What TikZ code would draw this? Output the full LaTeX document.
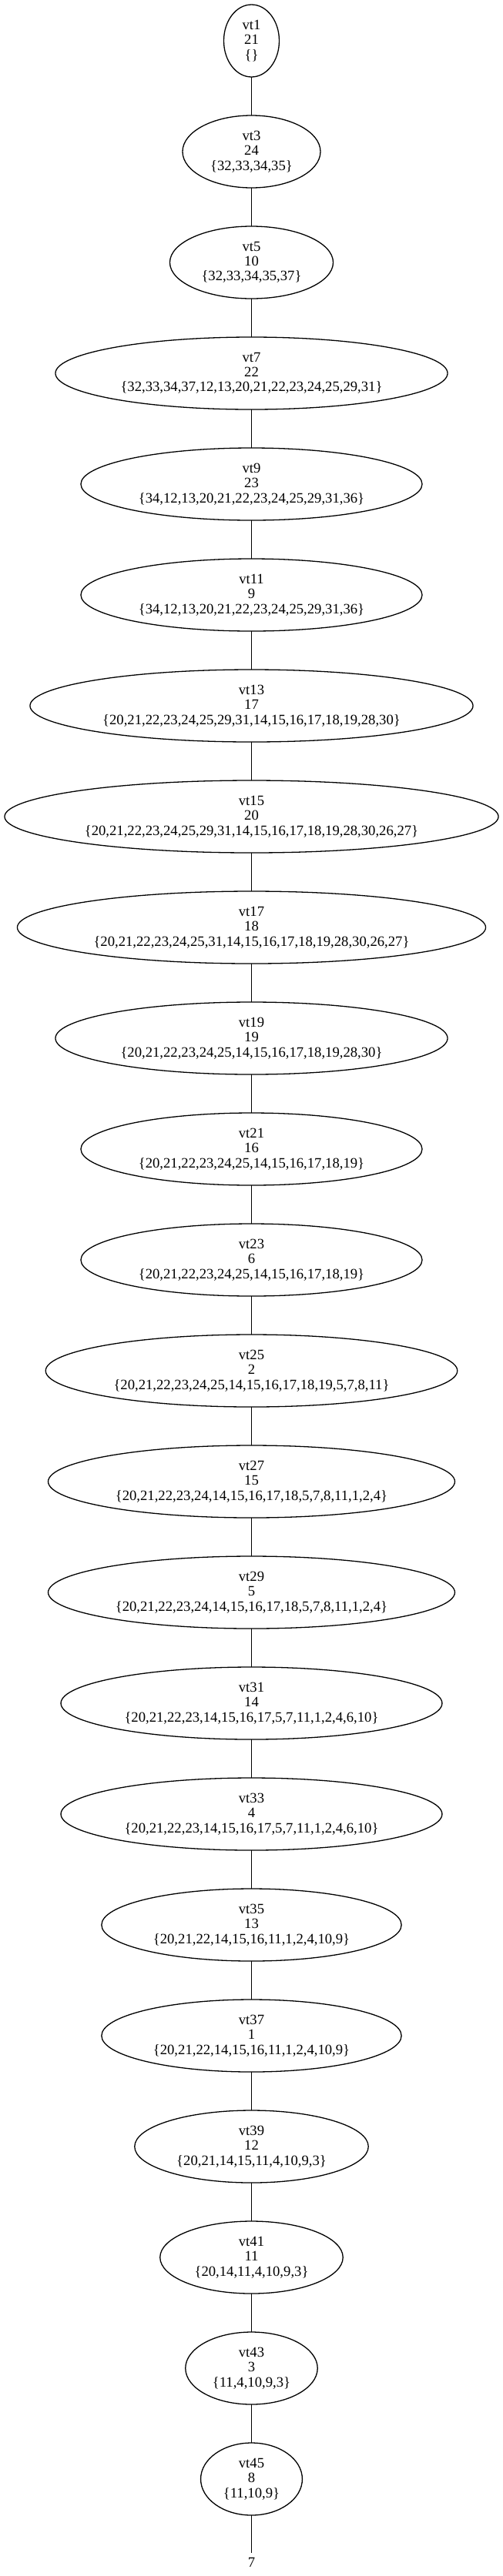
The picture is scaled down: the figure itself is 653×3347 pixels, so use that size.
\documentclass[tikz,border=0pt]{standalone}
\usepackage{fontspec}
\setmainfont{Liberation Serif}
\usepackage{tikz}
\usetikzlibrary{shapes.geometric,positioning}

\begin{document}
\begin{tikzpicture}[
    vtnode/.style={draw,ellipse,line width=1.3pt,align=center,
        inner xsep=10pt,inner ysep=0pt,outer sep=0pt,
        minimum width=72pt,minimum height=94pt,
        font=\fontsize{18.67pt}{19.3pt}\selectfont},
    node distance=50pt]
    \useasboundingbox (0,0) rectangle (653pt,-3347pt);

    \node[vtnode] (vt1) at (326.5pt,-53pt) {vt1\\21\\\{\}};
    \node[vtnode,below=of vt1] (vt3) {vt3\\24\\\{32,33,34,35\}};
    \node[vtnode,below=of vt3] (vt5) {vt5\\10\\\{32,33,34,35,37\}};
    \node[vtnode,below=of vt5] (vt7) {vt7\\22\\\{32,33,34,37,12,13,20,21,22,23,24,25,29,31\}};
    \node[vtnode,below=of vt7] (vt9) {vt9\\23\\\{34,12,13,20,21,22,23,24,25,29,31,36\}};
    \node[vtnode,below=of vt9] (vt11) {vt11\\9\\\{34,12,13,20,21,22,23,24,25,29,31,36\}};
    \node[vtnode,below=of vt11] (vt13) {vt13\\17\\\{20,21,22,23,24,25,29,31,14,15,16,17,18,19,28,30\}};
    \node[vtnode,below=of vt13] (vt15) {vt15\\20\\\{20,21,22,23,24,25,29,31,14,15,16,17,18,19,28,30,26,27\}};
    \node[vtnode,below=of vt15] (vt17) {vt17\\18\\\{20,21,22,23,24,25,31,14,15,16,17,18,19,28,30,26,27\}};
    \node[vtnode,below=of vt17] (vt19) {vt19\\19\\\{20,21,22,23,24,25,14,15,16,17,18,19,28,30\}};
    \node[vtnode,below=of vt19] (vt21) {vt21\\16\\\{20,21,22,23,24,25,14,15,16,17,18,19\}};
    \node[vtnode,below=of vt21] (vt23) {vt23\\6\\\{20,21,22,23,24,25,14,15,16,17,18,19\}};
    \node[vtnode,below=of vt23] (vt25) {vt25\\2\\\{20,21,22,23,24,25,14,15,16,17,18,19,5,7,8,11\}};
    \node[vtnode,below=of vt25] (vt27) {vt27\\15\\\{20,21,22,23,24,14,15,16,17,18,5,7,8,11,1,2,4\}};
    \node[vtnode,below=of vt27] (vt29) {vt29\\5\\\{20,21,22,23,24,14,15,16,17,18,5,7,8,11,1,2,4\}};
    \node[vtnode,below=of vt29] (vt31) {vt31\\14\\\{20,21,22,23,14,15,16,17,5,7,11,1,2,4,6,10\}};
    \node[vtnode,below=of vt31] (vt33) {vt33\\4\\\{20,21,22,23,14,15,16,17,5,7,11,1,2,4,6,10\}};
    \node[vtnode,below=of vt33] (vt35) {vt35\\13\\\{20,21,22,14,15,16,11,1,2,4,10,9\}};
    \node[vtnode,below=of vt35] (vt37) {vt37\\1\\\{20,21,22,14,15,16,11,1,2,4,10,9\}};
    \node[vtnode,below=of vt37] (vt39) {vt39\\12\\\{20,21,14,15,11,4,10,9,3\}};
    \node[vtnode,below=of vt39] (vt41) {vt41\\11\\\{20,14,11,4,10,9,3\}};
    \node[vtnode,below=of vt41] (vt43) {vt43\\3\\\{11,4,10,9,3\}};
    \node[vtnode,below=of vt43] (vt45) {vt45\\8\\\{11,10,9\}};
    \node[below=49pt of vt45,inner xsep=0pt,inner ysep=6pt,outer sep=0pt,
        font=\fontsize{18.67pt}{19.3pt}\selectfont] (vt7end) {7};

    % chain
    \draw[line width=1.3pt] (vt1) -- (vt3) -- (vt5) -- (vt7) -- (vt9) -- (vt11)
        -- (vt13) -- (vt15) -- (vt17) -- (vt19) -- (vt21) -- (vt23);
    \draw[line width=1.3pt] (vt23) -- (vt25) -- (vt27) -- (vt29) -- (vt31) -- (vt33)
        -- (vt35) -- (vt37) -- (vt39) -- (vt41) -- (vt43) -- (vt45) -- (vt7end);
\end{tikzpicture}
\end{document}
